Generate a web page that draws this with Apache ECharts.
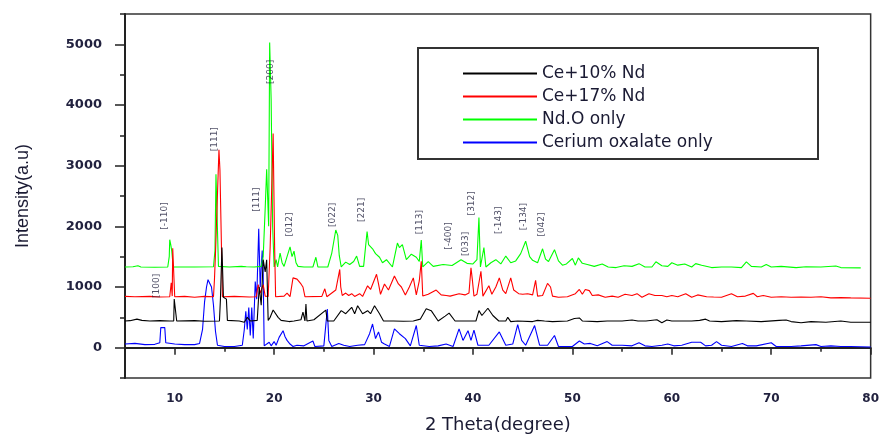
<!DOCTYPE html>
<html>
<head>
<meta charset="utf-8">
<script src="https://cdn.jsdelivr.net/npm/echarts@6/dist/echarts.min.js"></script>
<style>html,body{margin:0;padding:0;background:#fff;}#c{width:882px;height:439px;}</style>
</head>
<body>
<div id="c"></div>
<script>
var seriesNames = ['Ce+10% Nd', 'Ce+17% Nd', 'Nd.O only', 'Cerium oxalate only'];
var xMajorTicks = [10, 20, 30, 40, 50, 60, 70, 80];
var xMinorTicks = [5, 15, 25, 35, 45, 55, 65, 75];
var yMajorTicks = [0, 1000, 2000, 3000, 4000, 5000];
var yMinorTicks = [-500, 500, 1500, 2500, 3500, 4500, 5500];

var black10 = [[5.0,440],[5.5,445],[6.2,470],[6.7,450],[7.5,440],[8.5,445],[9.5,440],[9.9,440],[9.95,800],[10.1,800],[10.2,440],[12.0,445],[13.0,435],[14.5,440],[14.6,800],[14.75,1650],[14.9,830],[15.2,800],[15.3,450],[16.5,440],[17.0,420],[17.3,500],[17.6,440],[18.3,450],[18.5,1000],[18.7,700],[18.9,1450],[19.1,1250],[19.25,1450],[19.4,450],[19.6,500],[19.9,620],[20.1,600],[20.4,500],[20.7,450],[21.5,430],[22.0,440],[22.7,460],[22.9,585],[23.1,440],[23.2,720],[23.3,440],[24.0,460],[25.2,620],[25.35,440],[26.0,440],[26.75,610],[27.2,560],[27.8,665],[28.1,560],[28.4,690],[28.9,560],[29.4,610],[29.7,560],[30.1,690],[30.6,560],[31.0,440],[32.0,440],[33.0,435],[34.0,440],[34.7,470],[35.3,640],[35.8,610],[36.5,440],[37.2,520],[37.6,570],[38.2,440],[40.3,440],[40.6,610],[40.9,530],[41.5,650],[42.0,530],[42.6,440],[43.3,440],[43.5,500],[43.8,430],[44.5,440],[46.0,430],[46.5,450],[47.2,440],[48.0,430],[49.5,440],[50.2,480],[50.7,490],[51.0,440],[52.5,430],[53.5,440],[55.0,440],[56.0,455],[56.6,440],[57.4,440],[58.5,460],[59.0,410],[59.5,455],[60.0,440],[61.0,440],[62.0,440],[62.8,450],[63.4,470],[63.8,440],[65.0,430],[66.5,445],[67.5,440],[69.0,430],[70.8,450],[71.0,420],[71.5,455],[72.0,430],[73.0,410],[74.0,430],[75.5,420],[77.0,440],[78.0,420],[80.0,420]];

var red17 = [[5.0,845],[6.0,840],[7.5,845],[8.5,835],[9.5,840],[9.65,1070],[9.75,850],[9.8,1640],[9.95,1640],[10.0,840],[11.0,845],[12.0,830],[13.0,845],[13.9,840],[14.0,1130],[14.1,1550],[14.3,1550],[14.45,3260],[14.55,2930],[14.7,2930],[14.8,840],[16.0,845],[17.5,835],[18.2,840],[18.4,1040],[18.6,900],[18.9,1040],[19.1,850],[19.4,845],[19.6,1650],[19.8,1650],[19.9,3530],[20.05,1650],[20.15,840],[21.0,850],[21.3,900],[21.6,840],[21.9,1150],[22.1,1180],[22.3,1130],[22.5,1150],[22.7,1050],[22.9,1000],[23.1,840],[24.8,845],[25.1,970],[25.3,840],[26.2,950],[26.6,1290],[26.7,1000],[26.85,860],[27.2,900],[27.5,860],[27.8,890],[28.1,845],[28.6,890],[28.9,845],[29.4,1020],[29.7,960],[30.3,1210],[30.5,1050],[30.7,880],[31.1,1050],[31.5,950],[32.1,1180],[32.5,1050],[32.8,1000],[33.2,870],[33.6,1000],[34.0,1150],[34.3,870],[34.6,1100],[34.8,1425],[34.95,850],[35.5,880],[36.3,950],[36.8,870],[37.3,860],[37.7,850],[38.6,890],[39.2,870],[39.6,900],[39.8,1315],[39.95,1100],[40.1,850],[40.4,880],[40.8,1260],[41.0,850],[41.6,1020],[41.9,880],[42.3,1000],[42.65,1150],[43.0,950],[43.3,890],[43.8,1150],[44.1,950],[44.6,890],[45.0,880],[45.5,890],[46.0,870],[46.3,1110],[46.5,850],[47.0,860],[47.5,1060],[47.8,1000],[48.0,850],[48.6,830],[49.5,840],[50.3,890],[50.7,960],[51.0,880],[51.3,960],[51.7,940],[52.0,860],[52.6,870],[53.3,830],[54.0,850],[54.6,830],[55.3,880],[56.0,860],[56.5,890],[57.0,830],[57.7,890],[58.3,860],[59.0,860],[59.5,840],[60.0,860],[60.6,840],[61.4,890],[62.0,830],[62.6,870],[63.5,840],[64.2,835],[65.0,830],[66.0,890],[66.6,840],[67.4,850],[68.2,895],[68.6,840],[69.2,860],[70.0,830],[71.0,840],[72.0,830],[73.0,835],[74.0,830],[75.0,840],[76.0,820],[77.0,825],[78.0,820],[80.0,815]];

var greenNdO = [[5.0,1330],[5.8,1335],[6.3,1350],[6.6,1330],[8.0,1325],[9.3,1330],[9.45,1500],[9.5,1780],[9.6,1700],[9.7,1600],[9.8,1590],[9.85,1330],[12.0,1330],[13.9,1335],[14.05,1600],[14.15,2860],[14.3,2870],[14.4,1340],[15.5,1330],[16.7,1340],[16.9,1320],[17.2,1335],[18.0,1330],[18.7,1340],[18.9,1500],[19.1,2290],[19.25,2940],[19.45,2000],[19.55,5030],[19.7,4090],[19.85,2000],[20.0,1330],[20.2,1450],[20.35,1330],[20.6,1560],[20.8,1400],[21.0,1340],[21.3,1500],[21.6,1660],[21.8,1500],[22.0,1590],[22.2,1400],[22.4,1340],[23.0,1330],[23.9,1330],[24.2,1490],[24.4,1330],[25.4,1330],[25.8,1560],[26.2,1940],[26.4,1850],[26.55,1520],[26.75,1330],[27.2,1410],[27.6,1370],[28.0,1420],[28.3,1510],[28.6,1340],[29.0,1340],[29.35,1915],[29.5,1700],[29.9,1630],[30.2,1550],[30.6,1490],[30.9,1400],[31.3,1450],[31.9,1330],[32.4,1725],[32.6,1650],[32.9,1700],[33.3,1450],[33.8,1540],[34.3,1490],[34.6,1420],[34.8,1775],[34.95,1330],[35.5,1420],[36.0,1340],[37.0,1370],[37.9,1355],[38.8,1450],[39.4,1390],[40.0,1380],[40.4,1450],[40.6,2145],[40.75,1330],[41.1,1650],[41.3,1330],[41.8,1400],[42.3,1450],[42.8,1380],[43.3,1510],[43.8,1400],[44.3,1430],[44.8,1550],[45.3,1755],[45.7,1500],[46.0,1440],[46.5,1400],[47.0,1630],[47.3,1460],[47.6,1420],[48.2,1615],[48.6,1430],[49.0,1360],[49.4,1380],[50.0,1470],[50.3,1360],[50.6,1480],[51.0,1390],[51.5,1370],[52.2,1340],[53.0,1380],[53.6,1330],[54.4,1320],[55.2,1350],[56.0,1340],[56.7,1385],[57.3,1330],[58.0,1330],[58.4,1415],[59.0,1350],[59.6,1340],[60.0,1400],[60.6,1360],[61.3,1380],[62.0,1330],[62.4,1385],[63.0,1360],[64.0,1320],[65.0,1330],[66.0,1330],[67.0,1320],[67.5,1415],[68.0,1340],[69.0,1330],[69.5,1370],[70.0,1330],[71.0,1340],[72.5,1320],[73.5,1335],[75.0,1330],[76.5,1345],[77.0,1320],[79.0,1315]];

var blueCeOx = [[5.0,60],[6.0,70],[7.0,50],[8.0,55],[8.5,80],[8.6,330],[8.8,340],[9.0,330],[9.1,80],[10.0,60],[11.0,50],[12.0,50],[12.5,70],[12.8,300],[13.0,750],[13.2,1000],[13.35,1120],[13.55,1150],[13.7,1000],[13.9,700],[14.1,270],[14.3,40],[15.0,20],[16.0,20],[16.8,40],[17.0,300],[17.15,600],[17.3,300],[17.45,660],[17.6,200],[17.75,660],[17.9,150],[18.1,1090],[18.25,800],[18.45,1960],[18.6,1000],[18.8,1600],[18.9,1200],[19.0,30],[19.5,90],[19.7,30],[20.0,100],[20.2,40],[20.5,170],[20.7,150],[20.9,280],[21.1,180],[21.3,120],[21.6,60],[21.9,20],[22.3,40],[23.0,30],[23.9,110],[24.1,20],[25.0,30],[25.35,635],[25.5,120],[25.8,20],[26.5,70],[27.0,40],[27.6,20],[28.4,40],[29.1,50],[29.6,230],[29.9,390],[30.2,150],[30.5,260],[30.8,90],[31.1,60],[31.6,20],[32.1,310],[32.6,230],[33.2,150],[33.7,30],[34.3,365],[34.6,40],[35.6,20],[36.5,30],[37.3,60],[38.0,20],[38.6,310],[39.0,120],[39.5,280],[39.8,120],[40.1,290],[40.5,40],[41.6,40],[42.65,260],[43.3,40],[44.0,60],[44.5,380],[44.9,120],[45.3,40],[46.2,365],[46.7,40],[47.5,40],[48.2,200],[48.6,20],[49.5,20],[50.0,20],[50.7,110],[51.2,60],[51.8,70],[52.5,30],[53.5,100],[54.0,40],[55.0,40],[56.0,30],[56.7,80],[57.3,30],[58.0,20],[59.0,40],[59.6,60],[60.2,30],[61.0,40],[62.0,90],[62.9,90],[63.4,30],[64.0,40],[64.5,100],[65.0,40],[66.0,20],[67.1,70],[67.6,30],[68.5,30],[70.0,80],[70.5,20],[72.0,20],[73.0,30],[74.5,50],[75.0,20],[76.0,30],[77.0,20],[78.0,20],[80.0,10]];

var peakLabelNames = ['[-110]','[100]','[111]','[200]','[111]','[012]','[022]','[221]','[113]','[-400]','[033]','[312]','[-143]','[-134]','[042]'];
var peakLabelX = [9.0, 8.2, 14.0, 19.7, 18.2, 21.6, 25.9, 28.8, 34.6, 37.6, 39.3, 39.9, 42.6, 45.1, 46.9];
var peakLabelY = [2170, 1020, 3436, 4546, 2440, 2030, 2190, 2270, 2070, 1840, 1710, 2380, 2100, 2160, 2030];

var chart = echarts.init(document.getElementById('c'), null, {renderer: 'canvas'});
var tickColor = '#22223f';
var labelData = peakLabelNames.map(function (n, i) { return {name: n, value: [peakLabelX[i], peakLabelY[i]]}; });
var colors = ['#000000', '#ff0000', '#00ff00', '#0000ff'];
var dataSets = [black10, red17, greenNdO, blueCeOx];

var series = dataSets.map(function (d, i) {
  return {
    name: seriesNames[i], type: 'line', data: d, symbol: 'none', showSymbol: false,
    lineStyle: {width: 1.1, color: colors[i]}, itemStyle: {color: colors[i]},
    z: 10 - i, silent: true
  };
});
series.push({
  name: 'labels', type: 'scatter', data: labelData, symbolSize: 0, silent: true, z: 20,
  label: {show: true, position: 'inside', rotate: 90, formatter: '{b}', fontSize: 9,
    fontFamily: 'DejaVu Sans', color: tickColor}
});

function plain(v) { return String(v); }

chart.setOption({
  animation: false,
  backgroundColor: '#ffffff',
  grid: {left: 125, right: 10, top: 14, bottom: 57, show: true, borderColor: '#333', borderWidth: 1.5},
  legend: {
    show: true,
    data: seriesNames.map(function (n, i) { return {name: n, icon: 'rect', itemStyle: {color: colors[i]}}; }),
    orient: 'vertical', left: 458, top: 60, itemWidth: 74, itemHeight: 2, itemGap: 6,
    selectedMode: false, z: 30,
    textStyle: {fontFamily: 'DejaVu Sans', fontSize: 17, lineHeight: 17, color: '#1a1a33'}
  },
  graphic: [{
    type: 'rect', shape: {x: 418, y: 48, width: 400, height: 111},
    style: {fill: 'none', stroke: '#333', lineWidth: 2}, z: 0, silent: true
  }],
  xAxis: [{
    type: 'value', min: 5, max: 80, interval: 5,
    name: '2 Theta(degree)', nameLocation: 'middle', nameGap: 38,
    nameTextStyle: {fontFamily: 'DejaVu Sans', fontSize: 18, color: '#1a1a33'},
    axisLine: {show: true, lineStyle: {color: '#222', width: 2}},
    axisTick: {show: true, inside: false, length: 7, customValues: xMajorTicks, lineStyle: {color: '#222', width: 1.5}},
    axisLabel: {customValues: xMajorTicks, formatter: plain, margin: 15, fontFamily: 'DejaVu Sans', fontWeight: 'bold', fontSize: 12, color: tickColor},
    splitLine: {show: false}
  }, {
    type: 'value', min: 5, max: 80, interval: 5, position: 'bottom',
    axisLine: {show: false},
    axisTick: {show: true, inside: false, length: 4, customValues: xMinorTicks, lineStyle: {color: '#222', width: 1.5}},
    axisLabel: {show: false}, splitLine: {show: false}
  }],
  yAxis: [{
    type: 'value', min: -500, max: 5500, interval: 500,
    name: 'Intensity(a.u)', nameLocation: 'middle', nameGap: 93,
    nameTextStyle: {fontFamily: 'Liberation Sans', fontSize: 18, color: '#1a1a33'},
    axisLine: {show: true, lineStyle: {color: '#222', width: 2}},
    axisTick: {show: true, inside: false, length: 10, customValues: yMajorTicks, lineStyle: {color: '#222', width: 1.5}},
    axisLabel: {customValues: yMajorTicks, formatter: plain, margin: 23, fontFamily: 'DejaVu Sans', fontWeight: 'bold', fontSize: 13, color: tickColor},
    splitLine: {show: false}
  }, {
    type: 'value', min: -500, max: 5500, interval: 500, position: 'left',
    axisLine: {show: false},
    axisTick: {show: true, inside: false, length: 5, customValues: yMinorTicks, lineStyle: {color: '#222', width: 1.5}},
    axisLabel: {show: false}, splitLine: {show: false}
  }],
  series: series
});
</script>
</body>
</html>
